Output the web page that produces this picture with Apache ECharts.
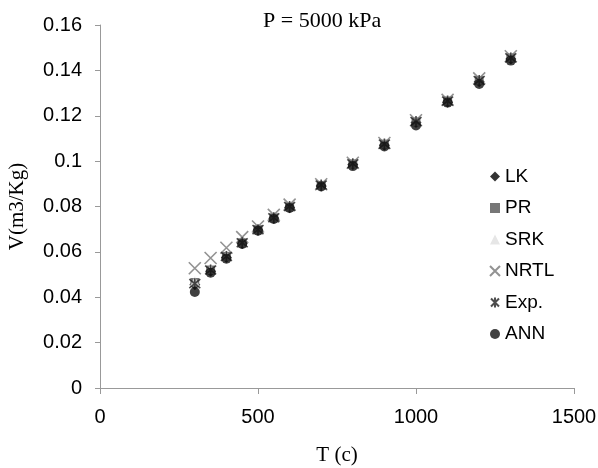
<!DOCTYPE html>
<html>
<head>
<meta charset="utf-8">
<script src="https://cdn.jsdelivr.net/npm/echarts@6/dist/echarts.min.js"></script>
<style>
  html, body { margin: 0; padding: 0; background: #fff; }
  #chart { width: 598px; height: 468px; }
</style>
</head>
<body>
<div id="chart"></div>
<script>
// Specific volume vs temperature at P = 5000 kPa
const temps = [300, 350, 400, 450, 500, 550, 600, 700, 800, 900, 1000, 1100, 1200, 1300];

const lk   = [0.0455, 0.0515, 0.0575, 0.0637, 0.0695, 0.0748, 0.0795, 0.0890, 0.0985, 0.1070, 0.1170, 0.1260, 0.1350, 0.1450];
const pr   = [0.0465, 0.0520, 0.0580, 0.0640, 0.0698, 0.0750, 0.0798, 0.0893, 0.0988, 0.1075, 0.1173, 0.1265, 0.1355, 0.1455];
const srk  = [0.0470, 0.0525, 0.0583, 0.0643, 0.0700, 0.0753, 0.0800, 0.0895, 0.0990, 0.1078, 0.1177, 0.1268, 0.1360, 0.1460];
const nrtl = [0.0528, 0.0573, 0.0618, 0.0665, 0.0712, 0.0763, 0.0808, 0.0898, 0.0993, 0.1080, 0.1180, 0.1270, 0.1365, 0.1462];
const expt = [0.0460, 0.0520, 0.0580, 0.0640, 0.0698, 0.0750, 0.0800, 0.0895, 0.0988, 0.1075, 0.1175, 0.1265, 0.1355, 0.1455];
const ann  = [0.0423, 0.0508, 0.0570, 0.0635, 0.0693, 0.0745, 0.0793, 0.0888, 0.0978, 0.1065, 0.1157, 0.1258, 0.1340, 0.1443];

const xTicks = [0, 500, 1000, 1500];
const yTicks = [0, 0.02, 0.04, 0.06, 0.08, 0.1, 0.12, 0.14, 0.16];

const pairs = arr => temps.map((t, i) => [t, arr[i]]);

const crossPath = 'path://M0,0 L10,10 M10,0 L0,10';
const starPath = 'path://M5,0 L5,10 M1,1 L9,9 M9,1 L1,9';

const chart = echarts.init(document.getElementById('chart'), null, { renderer: 'canvas' });

chart.setOption({
  animation: false,
  backgroundColor: '#ffffff',
  title: {
    text: 'P = 5000 kPa',
    left: 263,
    top: 10,
    padding: 0,
    textStyle: { fontFamily: 'Liberation Serif', fontSize: 22, fontWeight: 'normal', color: '#000' }
  },
  grid: { left: 100, right: 24, top: 25, bottom: 80, containLabel: false, outerBoundsMode: 'none' },
  legend: {
    orient: 'vertical',
    left: 489,
    top: 167,
    padding: 0,
    itemGap: 12.5,
    itemWidth: 10,
    itemHeight: 10,
    textStyle: { fontFamily: 'Liberation Sans', fontSize: 19, color: '#000' },
    data: ['LK', 'PR', 'SRK', 'NRTL', 'Exp.', 'ANN']
  },
  xAxis: {
    type: 'value',
    min: xTicks[0],
    max: xTicks[xTicks.length - 1],
    interval: 500,
    name: 'T (c)',
    nameLocation: 'middle',
    nameGap: 57,
    nameTextStyle: { fontFamily: 'Liberation Serif', fontSize: 21, color: '#000' },
    axisLine: { lineStyle: { color: '#999', width: 1 } },
    axisTick: { show: true, inside: false, length: 6, lineStyle: { color: '#999' } },
    axisLabel: {
      margin: 19,
      fontFamily: 'Liberation Sans',
      fontSize: 20,
      color: '#000',
      formatter: v => String(v)
    },
    splitLine: { show: false }
  },
  yAxis: {
    type: 'value',
    min: yTicks[0],
    max: yTicks[yTicks.length - 1],
    interval: 0.02,
    name: 'V(m3/Kg)',
    nameLocation: 'middle',
    nameGap: 72,
    nameTextStyle: { fontFamily: 'Liberation Serif', fontSize: 21, color: '#000' },
    axisLine: { show: true, lineStyle: { color: '#999', width: 1 } },
    axisTick: { show: true, inside: false, length: 5, lineStyle: { color: '#999' } },
    axisLabel: {
      margin: 18,
      fontFamily: 'Liberation Sans',
      fontSize: 20,
      color: '#000',
      formatter: v => String(parseFloat(v.toFixed(2)))
    },
    splitLine: { show: false }
  },
  series: [
    {
      name: 'LK', type: 'scatter', data: pairs(lk),
      symbol: 'diamond', symbolSize: 11,
      itemStyle: { color: '#000000' }
    },
    {
      name: 'PR', type: 'scatter', data: pairs(pr),
      symbol: 'rect', symbolSize: 9,
      itemStyle: { color: '#555555' }
    },
    {
      name: 'SRK', type: 'scatter', data: pairs(srk),
      symbol: 'triangle', symbolSize: 10,
      itemStyle: { color: '#e0e0e0' }
    },
    {
      name: 'NRTL', type: 'scatter', data: pairs(nrtl),
      symbol: crossPath, symbolSize: 12,
      itemStyle: { color: 'transparent', borderColor: '#777777', borderWidth: 1.6 }
    },
    {
      name: 'Exp.', type: 'scatter', data: pairs(expt),
      symbol: starPath, symbolSize: 11,
      itemStyle: { color: 'transparent', borderColor: '#222222', borderWidth: 1.6 }
    },
    {
      name: 'ANN', type: 'scatter', data: pairs(ann),
      symbol: 'circle', symbolSize: 10,
      itemStyle: { color: '#111111' }
    }
  ]
});
</script>
</body>
</html>
